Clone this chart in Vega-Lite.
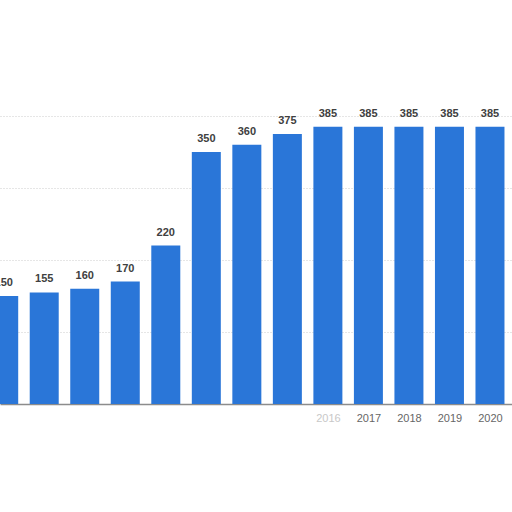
{
  "$schema": "https://vega.github.io/schema/vega-lite/v6.json",
  "autosize": {"type": "none"},
  "width": 512,
  "height": 288,
  "padding": {"left": 0, "top": 116, "right": 0, "bottom": 108},
  "background": "white",
  "data": {
    "values": [
      {"year": 2008, "value": 150},
      {"year": 2009, "value": 155},
      {"year": 2010, "value": 160},
      {"year": 2011, "value": 170},
      {"year": 2012, "value": 220},
      {"year": 2013, "value": 350},
      {"year": 2014, "value": 360},
      {"year": 2015, "value": 375},
      {"year": 2016, "value": 385},
      {"year": 2017, "value": 385},
      {"year": 2018, "value": 385},
      {"year": 2019, "value": 385},
      {"year": 2020, "value": 385}
    ]
  },
  "config": {
    "view": {"stroke": null},
    "font": "Liberation Sans"
  },
  "encoding": {
    "x": {
      "field": "year",
      "type": "quantitative",
      "scale": {"domain": [2008.032, 2020.42], "nice": false, "zero": false},
      "axis": {
        "title": null,
        "values": [2008, 2009, 2010, 2011, 2012, 2013, 2014, 2015, 2016, 2017, 2018, 2019, 2020],
        "format": "d",
        "labelExpr": "datum.value >= 2016 ? datum.label : ''",
        "grid": false,
        "ticks": false,
        "domainColor": "#8c8c8c",
        "domainWidth": 1.5,
        "labelColor": {"condition": {"test": "datum.value < 2017", "value": "#c8c8c8"}, "value": "#666666"},
        "labelFontSize": 11,
        "labelPadding": 8
      }
    },
    "y": {
      "field": "value",
      "type": "quantitative",
      "scale": {"domain": [0, 400], "nice": false},
      "axis": {
        "title": null,
        "values": [100, 200, 300, 400],
        "labels": false,
        "ticks": false,
        "domain": false,
        "gridColor": "#cccccc",
        "gridDash": [1, 2],
        "gridWidth": 1
      }
    }
  },
  "layer": [
    {
      "mark": {"type": "bar", "width": 29, "color": "#2a76d8", "clip": true}
    },
    {
      "mark": {
        "type": "text",
        "baseline": "bottom",
        "dy": -8,
        "fontSize": 11,
        "fontWeight": "bold",
        "color": "#404040"
      },
      "encoding": {"text": {"field": "value", "type": "quantitative"}}
    }
  ]
}
